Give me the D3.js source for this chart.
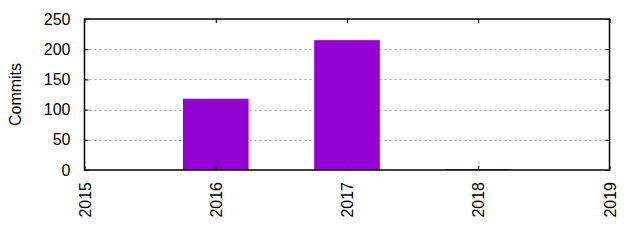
<!doctype html>
<html>
<head>
<meta charset="utf-8"/>
<script src="https://cdnjs.cloudflare.com/ajax/libs/d3/7.8.5/d3.min.js"></script>
<style>
  body { margin: 0; background: #fff; }
  svg text { font-family: "Liberation Sans", Arial, sans-serif; }
</style>
</head>
<body>
<svg width="640" height="240"></svg>
<script>
var years = [2016, 2017, 2018];
var commits = [118, 215, 1.5];
var xTicks = [2015, 2016, 2017, 2018, 2019];
var yTicks = [0, 50, 100, 150, 200, 250];

var pLeft = 84.5, pRight = 609.5, pTop = 19, pBottom = 170;
var svg = d3.select("svg");

var x = d3.scaleLinear().domain([2015, 2019]).range([pLeft, pRight]);
var y = d3.scaleLinear().domain([0, 250]).range([pBottom, pTop]);

// grid
svg.append("g").selectAll("line")
  .data(yTicks.filter(function(d){ return d > 0 && d < 250; }))
  .enter().append("line")
  .attr("x1", pLeft).attr("x2", pRight)
  .attr("y1", function(d){ return Math.round(y(d)) + 0.5; })
  .attr("y2", function(d){ return Math.round(y(d)) + 0.5; })
  .attr("stroke", "#a0a0a0").attr("stroke-dasharray", "2,3");

// bars
var bw = (x(2016) - x(2015)) * 0.5;
svg.append("g").selectAll("rect")
  .data(years).enter().append("rect")
  .attr("x", function(d){ return x(d) - bw / 2; })
  .attr("width", bw)
  .attr("y", function(d, i){ return y(commits[i]); })
  .attr("height", function(d, i){ return pBottom - y(commits[i]); })
  .attr("fill", "#9400d3");

// y axis left, ticks inward
var yAxis = d3.axisLeft(y).tickValues(yTicks).tickSize(-4).tickPadding(14);
var gy = svg.append("g").attr("transform", "translate(" + pLeft + ",0)").call(yAxis);
gy.select(".domain").remove();
gy.selectAll("text").attr("font-size", 16).attr("fill", "#000");
gy.selectAll("line").attr("stroke", "#000");

var yAxisR = d3.axisRight(y).tickValues(yTicks).tickSize(-4).tickFormat("");
var gyr = svg.append("g").attr("transform", "translate(" + pRight + ",0)").call(yAxisR);
gyr.select(".domain").remove();

// x axis ticks inward
var xAxis = d3.axisBottom(x).tickValues(xTicks).tickSize(-4).tickFormat(d3.format("d"));
var gx = svg.append("g").attr("transform", "translate(0," + pBottom + ")").call(xAxis);
gx.select(".domain").remove();
gx.selectAll("line").attr("stroke", "#000");
gx.selectAll("text")
  .attr("font-size", 16).attr("fill", "#000")
  .attr("transform", "rotate(-90)")
  .attr("text-anchor", "end")
  .attr("x", -12).attr("y", 0).attr("dy", "0.35em");

var xAxisT = d3.axisTop(x).tickValues(xTicks).tickSize(-4).tickFormat("");
var gxt = svg.append("g").attr("transform", "translate(0," + pTop + ")").call(xAxisT);
gxt.select(".domain").remove();

// frame
svg.append("rect")
  .attr("x", pLeft).attr("y", pTop)
  .attr("width", pRight - pLeft).attr("height", pBottom - pTop)
  .attr("fill", "none").attr("stroke", "#000").attr("stroke-width", 1.5);

svg.append("text")
  .attr("transform", "translate(21," + ((pTop + pBottom) / 2) + ") rotate(-90)")
  .attr("text-anchor", "middle")
  .attr("font-size", 16)
  .text("Commits");
</script>
</body>
</html>
